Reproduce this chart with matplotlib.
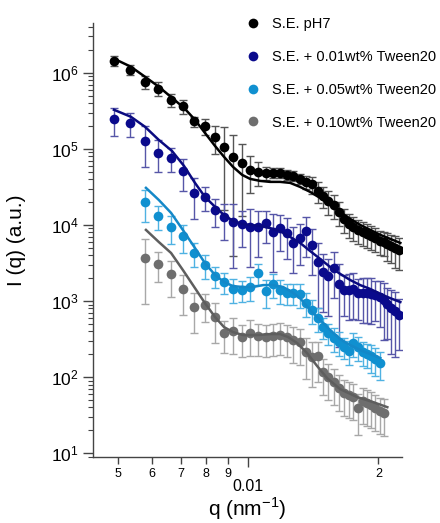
import numpy as np
import matplotlib
matplotlib.use("Agg")
import matplotlib.pyplot as plt
from matplotlib.ticker import FixedLocator, FixedFormatter, NullFormatter, LogLocator
from matplotlib.lines import Line2D

plt.rcParams['font.family'] = ['Liberation Sans', 'DejaVu Sans']
plt.rcParams['mathtext.fontset'] = 'custom'
plt.rcParams['mathtext.rm'] = 'Liberation Sans'

# ---------------- data ----------------
q_all = [0.00490, 0.005335, 0.00577, 0.006205, 0.00664, 0.007075, 0.00751, 0.007945,
         0.00838, 0.008815, 0.00925, 0.009685, 0.01012, 0.010555, 0.01099, 0.011425,
         0.01186, 0.012295, 0.01273, 0.013165, 0.0136, 0.014035, 0.01447, 0.014905,
         0.01534, 0.015775, 0.01621, 0.016645, 0.01708, 0.017515, 0.01795, 0.018385,
         0.01882, 0.019255, 0.01969, 0.020125, 0.02056, 0.020995, 0.02143, 0.021865, 0.0223]

I_ph7 = [1.44e6, 1.09e6, 7.6e5, 6.2e5, 4.4e5, 3.6e5, 2.3e5, 2.0e5, 1.44e5, 1.06e5,
         7.8e4, 6.5e4, 5.3e4, 5.0e4, 4.8e4, 4.8e4, 4.8e4, 4.55e4, 4.4e4, 4.0e4,
         3.7e4, 3.4e4, 2.8e4, 2.4e4, 2.07e4, 1.83e4, 1.48e4, 1.2e4, 1.03e4, 9.4e3,
         8.6e3, 8.1e3, 7.6e3, 7.2e3, 6.7e3, 6.2e3, 6.0e3, 5.6e3, 5.3e3, 5.0e3, 4.7e3]
rel_ph7 = [0.15, 0.15, 0.2, 0.2, 0.2, 0.2, 0.15, 0.25, 0.4, 0.85,
           0.95, 0.8, 0.5, 0.35, 0.2, 0.15, 0.15, 0.15, 0.15, 0.15,
           0.2, 0.25, 0.3, 0.3, 0.35, 0.35, 0.35, 0.35, 0.35, 0.35,
           0.35, 0.35, 0.35, 0.35, 0.35, 0.35, 0.35, 0.4, 0.4, 0.45, 0.45]

I_t01 = [2.48e5, 2.2e5, 1.27e5, 8.9e4, 7.6e4, 5.1e4, 2.64e4, 2.34e4, 1.57e4, 1.27e4,
         1.09e4, 1.03e4, 9.4e3, 9.4e3, 1.06e4, 8.1e3, 9.1e3, 7.85e3, 5.8e3, 6.7e3,
         8.3e3, 5.5e3, 3.26e3, 2.41e3, 2.13e3, 2.72e3, 1.67e3, 1.4e3, 1.4e3, 1.44e3,
         1.27e3, 1.27e3, 1.27e3, 1.24e3, 1.2e3, 1.13e3, 1.03e3, 910, 810, 740, 650]
rel_t01 = [0.4, 0.35, 0.55, 0.45, 0.35, 0.45, 0.55, 0.35, 0.4, 0.5,
           0.75, 0.5, 0.7, 0.6, 0.45, 0.7, 0.5, 0.55, 0.6, 0.55,
           0.55, 0.6, 0.75, 0.7, 0.7, 0.6, 0.85, 0.55, 0.6, 0.6,
           0.55, 0.6, 0.6, 0.6, 0.55, 0.6, 0.7, 0.65, 0.75, 0.75, 0.65]

I_t05 = [2.01e4, 1.31e4, 9.4e3, 7.2e3, 4.3e3, 3.0e3, 2.13e3, 1.78e3, 1.44e3, 1.40e3,
         1.53e3, 2.34e3, 1.35e3, 1.67e3, 1.40e3, 1.27e3, 1.27e3, 1.24e3, 940, 760,
         600, 455, 380, 326, 289, 248, 220, 280, 248, 213, 201, 189, 173, 153]
rel_t05 = [0.45, 0.35, 0.4, 0.4, 0.35, 0.35, 0.3, 0.3, 0.35, 0.3,
           0.35, 0.3, 0.4, 0.35, 0.35, 0.3, 0.3, 0.35, 0.35, 0.35,
           0.35, 0.3, 0.3, 0.35, 0.35, 0.3, 0.35, 0.35, 0.35, 0.35,
           0.35, 0.4, 0.4, 0.4]

I_t10 = [3.7e3, 3.1e3, 2.27e3, 1.44e3, 834, 886, 616, 379, 403, 336,
         379, 346, 336, 346, 357, 336, 307, 289, 213, 183,
         189, 116, 100, 86, 72, 62, 58, 55, 39, 48,
         45.5, 43, 39, 36, 34]
rel_t10 = [0.75, 0.42, 0.5, 0.55, 0.55, 0.4, 0.55, 0.45, 0.5, 0.45,
           0.5, 0.45, 0.45, 0.45, 0.45, 0.45, 0.5, 0.5, 0.55, 0.6,
           0.55, 0.5, 0.5, 0.5, 0.5, 0.5, 0.5, 0.5, 0.55, 0.5,
           0.5, 0.5, 0.5, 0.5, 0.5]

# fitted model curves
qfit_a = [0.0049, 0.00536, 0.00578, 0.00622, 0.00667, 0.00711, 0.00754, 0.00795, 0.00839,
          0.0088, 0.00923, 0.00969, 0.01011, 0.01066, 0.01124, 0.01186, 0.01251, 0.01319,
          0.01391, 0.01468, 0.01548, 0.01633, 0.01722, 0.01816, 0.01916, 0.02021, 0.02131, 0.02248]
fit_ph7 = [1.53e6, 1.2e6, 8.85e5, 6.55e5, 4.69e5, 3.46e5, 2.41e5, 1.62e5, 1.09e5, 7.85e4,
           5.8e4, 4.55e4, 4.03e4, 3.79e4, 3.68e4, 3.68e4, 3.57e4, 3.16e4, 2.72e4, 2.26e4,
           1.83e4, 1.48e4, 1.2e4, 1.0e4, 8.6e3, 7.4e3, 6.55e3, 5.8e3]
fit_t01 = [3.26e5, 2.64e5, 1.95e5, 1.31e5, 9.4e4, 5.98e4, 3.57e4, 2.34e4, 1.73e4, 1.35e4,
           1.13e4, 1.03e4, 1.0e4, 9.7e3, 9.1e3, 8.3e3, 6.95e3, 5.8e3, 4.55e3, 3.57e3,
           2.8e3, 2.27e3, 1.89e3, 1.62e3, 1.44e3, 1.24e3, 1.09e3, 970]
qfit_b = [0.00581, 0.00622, 0.00664, 0.00707, 0.00754, 0.00795, 0.00839, 0.0088, 0.00923,
          0.00974, 0.01027, 0.01083, 0.01142, 0.01205, 0.01264, 0.01319, 0.01391, 0.01468,
          0.01548, 0.01633, 0.01722, 0.01816, 0.01916, 0.02021]
fit_t05 = [3.07e4, 2.13e4, 1.44e4, 8.6e3, 4.98e3, 3.16e3, 2.2e3, 1.78e3, 1.57e3, 1.53e3,
           1.53e3, 1.62e3, 1.62e3, 1.53e3, 1.31e3, 1.09e3, 762, 562, 415, 316, 264, 227, 201, 178]
qfit_c = [0.00581, 0.00622, 0.00664, 0.00707, 0.00754, 0.00795, 0.00839, 0.0088, 0.00923,
          0.00974, 0.01049, 0.01124, 0.01186, 0.01238, 0.01299, 0.01369, 0.01444, 0.01523,
          0.01633, 0.01788, 0.01947, 0.02098]
fit_t10 = [8.6e3, 5.97e3, 4.28e3, 2.56e3, 1.48e3, 942, 616, 455, 391, 357, 357, 368, 368,
           336, 280, 207, 140, 97, 69.5, 54.6, 46.9, 40.3]

labels = ['S.E. pH7', 'S.E. + 0.01wt% Tween20', 'S.E. + 0.05wt% Tween20', 'S.E. + 0.10wt% Tween20']
x_minor_ticks = [0.005, 0.006, 0.007, 0.008, 0.009, 0.02]
x_minor_labels = ['5', '6', '7', '8', '9', '2']

# ---------------- styling ----------------
mcol = ['#000000', '#0a0a8c', '#1090d0', '#6e6e6e']
ecol = ['#555555', '#5656a8', '#4fb2e2', '#a8a8a8']
lcol = ['#000000', '#0a0a80', '#1488c8', '#5e5e5e']

fig = plt.figure(figsize=(4.40, 5.23), dpi=100)
ax = fig.add_axes([0.211, 0.126, 0.703, 0.830])

series = [
    (q_all, I_ph7, rel_ph7, qfit_a, fit_ph7),
    (q_all, I_t01, rel_t01, qfit_a, fit_t01),
    (q_all[2:2 + len(I_t05)], I_t05, rel_t05, qfit_b, fit_t05),
    (q_all[2:2 + len(I_t10)], I_t10, rel_t10, qfit_c, fit_t10),
]

for k, (qx, yy, rel, qf, yf) in enumerate(series):
    yy = np.array(yy)
    err = yy * np.array(rel)
    ax.errorbar(qx, yy, yerr=err, fmt='none', ecolor=ecol[k], elinewidth=1.0,
                capsize=3.2, capthick=1.0, zorder=2)
    ax.plot(qx, yy, 'o', color=mcol[k], ms=7, mec='none', zorder=3)
    ax.plot(qf, yf, '-', color=lcol[k], lw=1.8, zorder=4)

ax.set_xscale('log')
ax.set_yscale('log')
ax.set_xlim(0.00438, 0.0227)
ax.set_ylim(8.9, 4.5e6)

for s in ['top', 'right']:
    ax.spines[s].set_visible(False)
for s in ['left', 'bottom']:
    ax.spines[s].set_color('#444444')
    ax.spines[s].set_linewidth(1.0)

ax.xaxis.set_major_locator(FixedLocator([0.01]))
ax.xaxis.set_major_formatter(FixedFormatter(['0.01']))
ax.xaxis.set_minor_locator(FixedLocator(x_minor_ticks))
ax.xaxis.set_minor_formatter(FixedFormatter(x_minor_labels))
ax.tick_params(axis='x', which='major', direction='out', length=7, width=1,
               color='#444444', labelsize=11.5, pad=9)
ax.tick_params(axis='x', which='minor', direction='out', length=5, width=1,
               color='#444444', labelsize=9, pad=3)

ax.yaxis.set_major_locator(LogLocator(base=10, numticks=10))
ax.yaxis.set_minor_locator(LogLocator(base=10, subs=np.arange(2, 10), numticks=20))
ax.yaxis.set_minor_formatter(NullFormatter())
ax.tick_params(axis='y', which='major', direction='out', length=7, width=1,
               color='#444444', labelsize=12.5, pad=3)
ax.tick_params(axis='y', which='minor', direction='out', length=3.5, width=0.8,
               color='#444444')

ax.set_xlabel('q (nm$^{-1}$)', fontsize=15, labelpad=1)
ax.set_ylabel('I (q) (a.u.)', fontsize=15, labelpad=18)

handles = [Line2D([], [], ls='none', marker='o', ms=7, color=c, mec='none') for c in mcol]
ax.legend(handles, labels, loc='upper left', bbox_to_anchor=(0.545, 0.982),
          bbox_transform=fig.transFigure, frameon=False, fontsize=10.5,
          handlelength=0.8, handletextpad=0.9, labelspacing=1.3, borderpad=0)

fig.savefig('out.png', dpi=100)
